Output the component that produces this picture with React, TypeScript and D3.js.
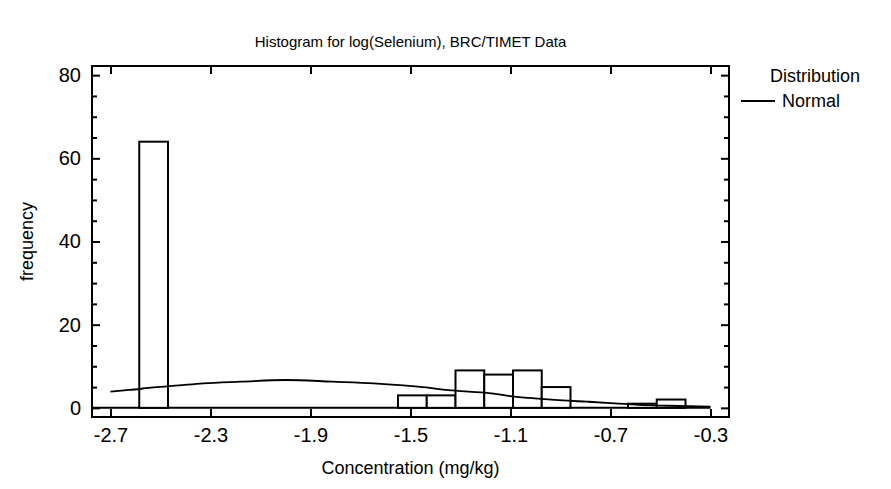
import { useRef, useEffect } from "react";
import * as d3 from "d3";

// histogram classes: lower limit, class width, counts per class
const classLower = -2.7;
const classWidth = 0.115;
const classCounts = [0, 64, 0, 0, 0, 0, 0, 0, 0, 0, 3, 3, 9, 8, 9, 5, 0, 0, 1, 2];

// fitted normal curve
const curveX = [
  -2.7, -2.624, -2.527, -2.427, -2.329, -2.178, -1.998, -1.812, -1.647, -1.529, -1.437,
  -1.361, -1.268, -1.176, -1.108, -1.028, -0.923, -0.797, -0.684, -0.586, -0.468, -0.3,
];
const curveY = [
  3.9, 4.3, 4.9, 5.4, 5.9, 6.3, 6.7, 6.3, 5.9, 5.4, 4.9,
  4.3, 3.9, 3.5, 2.9, 2.4, 1.9, 1.5, 1.1, 0.7, 0.5, 0.3,
];

const xTicks = [-2.7, -2.3, -1.9, -1.5, -1.1, -0.7, -0.3];
const xTickLabels = ["-2.7", "-2.3", "-1.9", "-1.5", "-1.1", "-0.7", "-0.3"];
const yTicks = [0, 20, 40, 60, 80];
const yMinorTicks = [5, 10, 15, 25, 30, 35, 45, 50, 55, 65, 70, 75];

const title = "Histogram for log(Selenium), BRC/TIMET Data";
const xTitle = "Concentration (mg/kg)";
const yTitle = "frequency";
const legendTitle = "Distribution";
const legendItem = "Normal";

const App = () => {
  const ref = useRef<SVGSVGElement | null>(null);

  const width = 891;
  const height = 489;
  const margin = { top: 66, right: 162, bottom: 72, left: 92 };
  const font = "'Liberation Sans', Arial, sans-serif";

  useEffect(() => {
    document.body.style.margin = "0";
    if (!ref.current) return;
    const svg = d3.select(ref.current);
    svg.selectAll("*").remove();

    const x = d3.scaleLinear().domain([-2.774, -0.226]).range([margin.left, width - margin.right]);
    const y = d3.scaleLinear().domain([-2.2, 82.2]).range([height - margin.bottom, margin.top]);

    const x0 = margin.left;
    const x1 = width - margin.right;
    const y0 = height - margin.bottom;
    const y1 = margin.top;

    // title
    svg.append("text")
      .attr("x", (x0 + x1) / 2)
      .attr("y", 47)
      .attr("text-anchor", "middle")
      .style("font-family", font)
      .style("font-size", "15px")
      .text(title);

    // baseline
    svg.append("line")
      .attr("x1", x0)
      .attr("x2", x(-0.3))
      .attr("y1", y(0))
      .attr("y2", y(0))
      .attr("stroke", "#000")
      .attr("stroke-width", 2);

    // bars
    const bins = classCounts.map((c, i) => ({
      lo: classLower + i * classWidth,
      hi: classLower + (i + 1) * classWidth,
      count: c,
    }));
    svg.append("g")
      .selectAll("rect")
      .data(bins.filter((b) => b.count > 0))
      .join("rect")
      .attr("x", (d) => x(d.lo))
      .attr("y", (d) => y(d.count))
      .attr("width", (d) => x(d.hi) - x(d.lo))
      .attr("height", (d) => y(0) - y(d.count))
      .attr("fill", "#fff")
      .attr("stroke", "#000")
      .attr("stroke-width", 2);

    // normal curve
    const line = d3.line<number>()
      .x((_, i) => x(curveX[i]))
      .y((d) => y(d))
      .curve(d3.curveMonotoneX);
    svg.append("path")
      .datum(curveY)
      .attr("d", line)
      .attr("fill", "none")
      .attr("stroke", "#000")
      .attr("stroke-width", 1.8);

    // axes (ticks point inward)
    const gx = svg.append("g").attr("transform", `translate(0,${y0})`)
      .call(d3.axisBottom(x).tickValues(xTicks).tickSize(-8).tickPadding(11)
        .tickFormat((_, i) => xTickLabels[i]));
    svg.append("g").attr("transform", `translate(0,${y1})`)
      .call(d3.axisTop(x).tickValues(xTicks).tickSize(-8).tickFormat(() => ""));
    const gy = svg.append("g").attr("transform", `translate(${x0},0)`)
      .call(d3.axisLeft(y).tickValues(yTicks).tickSize(-8).tickPadding(11));
    svg.append("g").attr("transform", `translate(${x0},0)`)
      .call(d3.axisLeft(y).tickValues(yMinorTicks).tickSize(-5).tickFormat(() => ""));
    svg.append("g").attr("transform", `translate(${x1},0)`)
      .call(d3.axisRight(y).tickValues(yTicks).tickSize(-8).tickFormat(() => ""));
    svg.append("g").attr("transform", `translate(${x1},0)`)
      .call(d3.axisRight(y).tickValues(yMinorTicks).tickSize(-5).tickFormat(() => ""));

    svg.selectAll(".domain").remove();
    svg.selectAll(".tick line").attr("stroke", "#000").attr("stroke-width", 2);
    [gx, gy].forEach((g) =>
      g.selectAll("text").style("font-family", font).style("font-size", "20px").attr("fill", "#000")
    );

    // frame
    svg.append("rect")
      .attr("x", x0)
      .attr("y", y1)
      .attr("width", x1 - x0)
      .attr("height", y0 - y1)
      .attr("fill", "none")
      .attr("stroke", "#000")
      .attr("stroke-width", 2);

    // axis titles
    svg.append("text")
      .attr("x", (x0 + x1) / 2)
      .attr("y", 474)
      .attr("text-anchor", "middle")
      .style("font-family", font)
      .style("font-size", "18px")
      .text(xTitle);
    svg.append("text")
      .attr("transform", `translate(33,${(y0 + y1) / 2}) rotate(-90)`)
      .attr("text-anchor", "middle")
      .style("font-family", font)
      .style("font-size", "18px")
      .text(yTitle);

    // legend
    svg.append("text")
      .attr("x", 815)
      .attr("y", 82)
      .attr("text-anchor", "middle")
      .style("font-family", font)
      .style("font-size", "18px")
      .text(legendTitle);
    svg.append("line")
      .attr("x1", 741)
      .attr("x2", 775)
      .attr("y1", 101)
      .attr("y2", 101)
      .attr("stroke", "#000")
      .attr("stroke-width", 1.8);
    svg.append("text")
      .attr("x", 782)
      .attr("y", 107)
      .style("font-family", font)
      .style("font-size", "18px")
      .text(legendItem);
  }, []);

  return <svg ref={ref} width={width} height={height} style={{ display: "block" }} />;
};

export default App;
